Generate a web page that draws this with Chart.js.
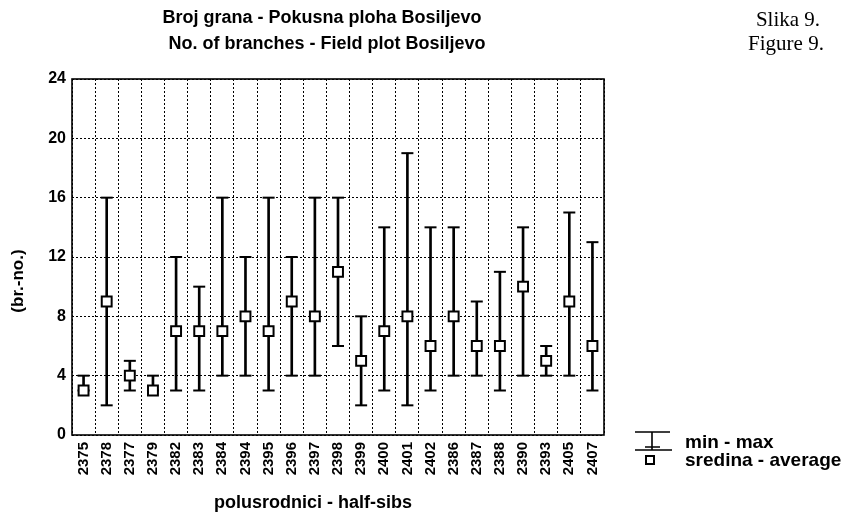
<!DOCTYPE html>
<html>

<head>
    <title>Broj grana - Pokusna ploha Bosiljevo</title>
    <script src="https://cdn.jsdelivr.net/npm/chart.js"></script>
    <style>
        body { margin: 0; background: #fff; }
    </style>
</head>

<body>

    <canvas id="myChart" width="848" height="522"></canvas>

    <script>
        // half-sib families, in the order they appear on the x axis
        var categories = ['2375', '2378', '2377', '2379', '2382', '2383', '2384', '2394', '2395', '2396', '2397', '2398',
            '2399', '2400', '2401', '2402', '2386', '2387', '2388', '2390', '2393', '2405', '2407'];
        var minVals = [3, 2, 3, 3, 3, 3, 4, 4, 3, 4, 4, 6, 2, 3, 2, 3, 4, 4, 3, 4, 4, 4, 3];
        var maxVals = [4, 16, 5, 4, 12, 10, 16, 12, 16, 12, 16, 16, 8, 14, 19, 14, 14, 9, 11, 14, 6, 15, 13];
        var meanVals = [3, 9, 4, 3, 7, 7, 7, 8, 7, 9, 8, 11, 5, 7, 8, 6, 8, 6, 6, 10, 5, 9, 6];
        var yTicks = [0, 4, 8, 12, 16, 20, 24];

        var sans = '"Liberation Sans", Arial, sans-serif';
        var serif = '"Liberation Serif", "Times New Roman", serif';

        // texts, frame and legend drawn around the plot
        var extrasPlugin = {
            id: 'extras',
            afterDraw(chart) {
                const ctx = chart.ctx;
                const area = chart.chartArea;
                ctx.save();

                // frame around the plot
                ctx.strokeStyle = '#000';
                ctx.lineWidth = 1.6;
                ctx.strokeRect(area.left, area.top, area.right - area.left, area.bottom - area.top);

                ctx.fillStyle = '#000';
                ctx.textBaseline = 'middle';

                // title
                ctx.textAlign = 'center';
                ctx.font = 'bold 18px ' + sans;
                ctx.fillText('Broj grana - Pokusna ploha Bosiljevo', 322, 18);
                ctx.fillText('No. of branches - Field plot Bosiljevo', 327, 44);

                // figure number
                ctx.font = '21px ' + serif;
                ctx.fillText('Slika 9.', 788, 20);
                ctx.fillText('Figure 9.', 786, 44);

                // axis titles
                ctx.font = 'bold 18px ' + sans;
                ctx.fillText('polusrodnici - half-sibs', 313, 503);
                ctx.save();
                ctx.translate(18, 281);
                ctx.rotate(-Math.PI / 2);
                ctx.font = 'bold 17px ' + sans;
                ctx.fillText('(br.-no.)', 0, 0);
                ctx.restore();

                // legend: min - max symbol
                ctx.lineWidth = 1.6;
                ctx.beginPath();
                ctx.moveTo(635, 432); ctx.lineTo(670, 432);
                ctx.moveTo(652, 432); ctx.lineTo(652, 450);
                ctx.moveTo(645, 447); ctx.lineTo(660, 447);
                ctx.moveTo(635, 450); ctx.lineTo(672, 450);
                ctx.stroke();
                // legend: average square
                ctx.fillStyle = '#fff';
                ctx.fillRect(646, 456, 8, 8);
                ctx.lineWidth = 2;
                ctx.strokeRect(646, 456, 8, 8);

                ctx.fillStyle = '#000';
                ctx.textAlign = 'left';
                ctx.font = 'bold 19px ' + sans;
                ctx.fillText('min - max', 685, 443);
                ctx.fillText('sredina - average', 685, 461);

                ctx.restore();
            }
        };

        var ctx = document.getElementById('myChart').getContext('2d');

        var myChart = new Chart(ctx, {
            type: 'bar',
            data: {
                labels: categories,
                datasets: [{
                    type: 'line',
                    label: 'sredina - average',
                    data: meanVals,
                    showLine: false,
                    pointStyle: 'rect',
                    pointRadius: 7,
                    pointBackgroundColor: '#fff',
                    pointBorderColor: '#000',
                    pointBorderWidth: 2,
                    order: 1
                }, {
                    type: 'line',
                    label: 'max',
                    data: maxVals,
                    showLine: false,
                    pointStyle: 'line',
                    pointRadius: 6,
                    pointBorderColor: '#000',
                    pointBorderWidth: 2,
                    order: 2
                }, {
                    type: 'line',
                    label: 'min',
                    data: minVals,
                    showLine: false,
                    pointStyle: 'line',
                    pointRadius: 6,
                    pointBorderColor: '#000',
                    pointBorderWidth: 2,
                    order: 2
                }, {
                    type: 'bar',
                    label: 'min - max',
                    data: categories.map((c, i) => [minVals[i], maxVals[i]]),
                    backgroundColor: '#000',
                    barThickness: 2,
                    order: 3
                }]
            },
            options: {
                responsive: false,
                animation: false,
                layout: {
                    padding: { left: 0, right: 244, top: 79, bottom: 0 }
                },
                scales: {
                    x: {
                        offset: true,
                        grid: {
                            offset: true,
                            color: '#000',
                            lineWidth: 1,
                            drawTicks: false,
                            borderDash: [2, 2]
                        },
                        border: { display: false, dash: [2, 2] },
                        ticks: {
                            color: '#000',
                            padding: 7,
                            minRotation: 90,
                            maxRotation: 90,
                            autoSkip: false,
                            font: { family: sans, size: 15, weight: 'bold' }
                        },
                        afterFit(scale) { scale.height = 87; }
                    },
                    y: {
                        min: 0,
                        max: 24,
                        afterBuildTicks(scale) {
                            scale.ticks = yTicks.map(v => ({ value: v }));
                        },
                        grid: {
                            color: '#000',
                            lineWidth: 1,
                            drawTicks: false,
                            borderDash: [2, 2]
                        },
                        border: { display: false, dash: [2, 2] },
                        ticks: {
                            color: '#000',
                            padding: 6,
                            font: { family: sans, size: 16, weight: 'bold' }
                        },
                        afterFit(scale) { scale.width = 72; }
                    }
                },
                plugins: {
                    legend: { display: false },
                    tooltip: { enabled: false }
                }
            },
            plugins: [extrasPlugin]
        });
    </script>

</body>

</html>
